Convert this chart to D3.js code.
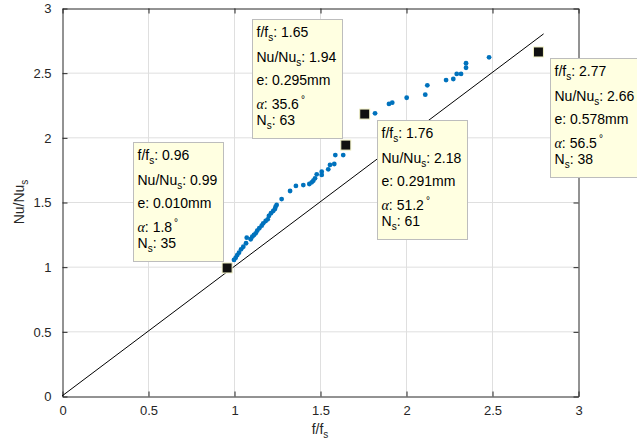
<!DOCTYPE html>
<html>
<head>
<meta charset="utf-8">
<script src="https://cdn.jsdelivr.net/npm/d3@7"></script>
<style>
  body { margin: 0; background: #fff; }
  svg { display: block; font-family: "Liberation Sans", Arial, Helvetica, sans-serif; }
  .tick text { fill: #262626; font-size: 13px; }
  .tick line { stroke: #262626; }
  .domain { stroke: #262626; }
</style>
</head>
<body>
<svg id="chart" width="637" height="447"></svg>
<script>
// measured points (f/fs, Nu/Nus)
const fRatio = [1.000, 1.010, 1.019, 1.029, 1.041, 1.054, 1.070, 1.074, 1.097, 1.106,
  1.116, 1.126, 1.135, 1.147, 1.161, 1.170, 1.184, 1.196, 1.203, 1.215,
  1.228, 1.238, 1.242, 1.248, 1.277, 1.326, 1.360, 1.403, 1.438, 1.452,
  1.461, 1.471, 1.481, 1.510, 1.510, 1.548, 1.558, 1.583, 1.589, 1.635,
  1.820, 1.901, 1.920, 2.004, 2.112, 2.124, 2.233, 2.275, 2.295, 2.320,
  2.349, 2.349, 2.483];
const nuRatio = [1.052, 1.069, 1.090, 1.108, 1.134, 1.154, 1.181, 1.224, 1.212, 1.232,
  1.245, 1.258, 1.278, 1.297, 1.317, 1.335, 1.353, 1.366, 1.392, 1.413,
  1.431, 1.446, 1.464, 1.477, 1.523, 1.585, 1.624, 1.631, 1.639, 1.652,
  1.665, 1.683, 1.714, 1.734, 1.709, 1.753, 1.787, 1.794, 1.863, 1.863,
  2.186, 2.258, 2.268, 2.306, 2.330, 2.402, 2.443, 2.451, 2.490, 2.490,
  2.538, 2.573, 2.619];

// y = x reference line
const refLine = [0, 2.8];

// data tips
const tipF = [0.96, 1.65, 1.76, 2.77];
const tipNu = [0.99, 1.94, 2.18, 2.66];
const tipE = ["0.010", "0.295", "0.291", "0.578"];
const tipAlpha = ["1.8", "35.6", "51.2", "56.5"];
const tipNs = [35, 63, 61, 38];
const tipSide = ["upleft", "upleft", "downright", "downright"];

const ticks = [0, 0.5, 1, 1.5, 2, 2.5, 3];

const svg = d3.select("#chart");
const m = { left: 62, right: 578, top: 8, bottom: 396 };

const x = d3.scaleLinear().domain([0, 3]).range([m.left, m.right]);
const y = d3.scaleLinear().domain([0, 3]).range([m.bottom, m.top]);

// grid
const grid = svg.append("g").attr("stroke", "#dfdfdf").attr("stroke-width", 1);
grid.selectAll(".gx").data(ticks.slice(1, -1)).join("line")
  .attr("x1", d => x(d) + 0.5).attr("x2", d => x(d) + 0.5)
  .attr("y1", m.top).attr("y2", m.bottom);
grid.selectAll(".gy").data(ticks.slice(1, -1)).join("line")
  .attr("y1", d => y(d) + 0.5).attr("y2", d => y(d) + 0.5)
  .attr("x1", m.left).attr("x2", m.right);

// axes
const fmt = d3.format("~g");
svg.append("g").attr("transform", `translate(0.5,${m.bottom + 0.5})`)
  .call(d3.axisBottom(x).tickValues(ticks).tickFormat(fmt).tickSize(-5).tickSizeOuter(0).tickPadding(9));
svg.append("g").attr("transform", `translate(${m.left + 0.5},0.5)`)
  .call(d3.axisLeft(y).tickValues(ticks).tickFormat(fmt).tickSize(-5).tickSizeOuter(0).tickPadding(11));
svg.append("g").attr("transform", `translate(0.5,${m.top + 0.5})`)
  .call(d3.axisTop(x).tickValues(ticks).tickFormat("").tickSize(-5).tickSizeOuter(0));
svg.append("g").attr("transform", `translate(${m.right + 0.5},0.5)`)
  .call(d3.axisRight(y).tickValues(ticks).tickFormat("").tickSize(-5).tickSizeOuter(0));
svg.selectAll(".tick text").attr("font-family", null).attr("font-size", null);

// axis labels
const xl = svg.append("text").attr("x", x(1.5)).attr("y", 434)
  .attr("text-anchor", "middle").attr("fill", "#262626").attr("font-size", 14);
xl.append("tspan").text("f/f");
xl.append("tspan").text("s").attr("font-size", 10).attr("dy", 4);

const yl = svg.append("text").attr("transform", `translate(24,${y(1.5)}) rotate(-90)`)
  .attr("text-anchor", "middle").attr("fill", "#262626").attr("font-size", 14);
yl.append("tspan").text("Nu/Nu");
yl.append("tspan").text("s").attr("font-size", 10).attr("dy", 4);

// reference line
svg.append("line")
  .attr("x1", x(refLine[0])).attr("y1", y(refLine[0]))
  .attr("x2", x(refLine[1])).attr("y2", y(refLine[1]))
  .attr("stroke", "#000").attr("stroke-width", 1);

// points
svg.append("g").selectAll("circle")
  .data(d3.range(fRatio.length)).join("circle")
  .attr("cx", i => x(fRatio[i])).attr("cy", i => y(nuRatio[i]))
  .attr("r", 2.4).attr("fill", "#0072BD");

// data tips
const boxW = 90, boxH = 119;
const lineY = [17, 42, 65.5, 89, 105.5];
tipF.forEach((f, i) => {
  const px = x(f), py = y(tipNu[i]);
  const bx = tipSide[i] === "upleft" ? px - 4 - boxW : px + 12;
  const by = tipSide[i] === "upleft" ? py - 7 - boxH : py + 6;
  const g = svg.append("g").attr("transform", `translate(${Math.round(bx) + 0.5},${Math.round(by) + 0.5})`);
  g.append("rect").attr("width", boxW).attr("height", boxH)
    .attr("fill", "#ffffe1").attr("stroke", "#bdbdbd");
  const t = (k) => g.append("text").attr("x", 4).attr("y", lineY[k])
    .attr("font-size", 14).attr("fill", "#000");
  const sub = (el, s) => {
    el.append("tspan").text(s).attr("font-size", 10).attr("dy", 4);
  };
  let l = t(0); l.append("tspan").text("f/f"); sub(l, "s");
  l.append("tspan").text(": " + f.toFixed(2)).attr("dy", -4);
  l = t(1); l.append("tspan").text("Nu/Nu"); sub(l, "s");
  l.append("tspan").text(": " + tipNu[i].toFixed(2)).attr("dy", -4);
  l = t(2); l.text("e: " + tipE[i] + "mm");
  l = t(3);
  l.append("tspan").text("\u03B1").attr("font-family", "'Liberation Serif', 'DejaVu Serif', serif").attr("font-style", "italic");
  l.append("tspan").text(": " + tipAlpha[i]);
  l.append("tspan").text("\u00B0").attr("font-size", 10).attr("dy", -6).attr("dx", 2);
  l = t(4); l.append("tspan").text("N"); sub(l, "s");
  l.append("tspan").text(": " + tipNs[i]).attr("dy", -4);

  // marker
  svg.append("rect").attr("x", px - 5).attr("y", py - 5).attr("width", 10).attr("height", 10)
    .attr("fill", "#111").attr("stroke", "#f3f3c8").attr("stroke-width", 1);
});
</script>
</body>
</html>
